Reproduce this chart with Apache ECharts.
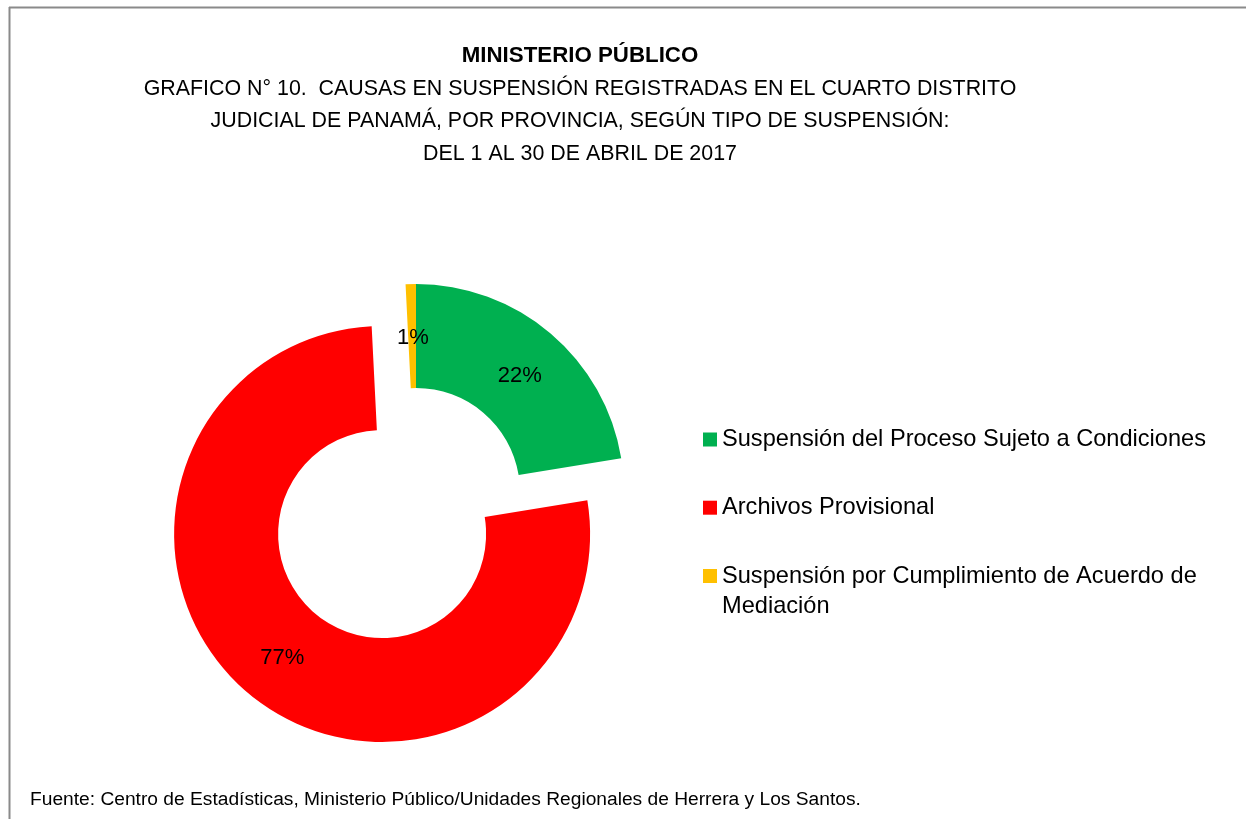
<!DOCTYPE html>
<html>
<head>
<meta charset="utf-8">
<script src="https://cdn.jsdelivr.net/npm/echarts@6/dist/echarts.min.js"></script>
<style>
html,body{margin:0;padding:0;background:#fff;}
#chart{width:1246px;height:819px;}
</style>
</head>
<body>
<div id="chart"></div>
<script>
const categories = [
  'Suspensión del Proceso Sujeto a Condiciones',
  'Archivos Provisional',
  'Suspensión por Cumplimiento de Acuerdo de Mediación'
];
const legendLabels = [
  'Suspensión del Proceso Sujeto a Condiciones',
  'Archivos Provisional',
  '\nSuspensión por Cumplimiento de Acuerdo de\nMediación'
];
const values = [22.4, 76.8, 0.8];
const colors = ['#00B050', '#FF0000', '#FFC000'];
const titleMain = 'MINISTERIO PÚBLICO';
const titleLines = [
  'GRAFICO N° 10.  CAUSAS EN SUSPENSIÓN REGISTRADAS EN EL CUARTO DISTRITO',
  'JUDICIAL DE PANAMÁ, POR PROVINCIA, SEGÚN TIPO DE SUSPENSIÓN:',
  'DEL 1 AL 30 DE ABRIL DE 2017'
];
const sourceText = 'Fuente: Centro de Estadísticas, Ministerio Público/Unidades Regionales de Herrera y Los Santos.';

const FONT = 'Liberation Sans';
const chart = echarts.init(document.getElementById('chart'), null, {renderer: 'canvas'});

const legendTops = [424.5, 492.7, 531];
const legends = categories.map((c, i) => ({
  orient: 'vertical',
  left: 703,
  top: legendTops[i],
  padding: 0,
  itemWidth: 14,
  itemHeight: 14,
  icon: 'rect',
  selectedMode: false,
  data: [c],
  formatter: () => legendLabels[i],
  textStyle: {
    fontFamily: FONT, fontSize: 23.6, color: '#000', lineHeight: 30
  }
}));

chart.setOption({
  animation: false,
  legend: legends,
  graphic: [
    {type: 'line', shape: {x1: 9, y1: 7.5, x2: 1246, y2: 7.5}, style: {stroke: '#8a8a8a', lineWidth: 2}},
    {type: 'line', shape: {x1: 9.5, y1: 7, x2: 9.5, y2: 819}, style: {stroke: '#8a8a8a', lineWidth: 2}},
    {type: 'text', x: 580, y: 56, style: {text: titleMain, font: 'bold 22.3px ' + FONT, fill: '#000', textAlign: 'center', textVerticalAlign: 'middle'}},
    ...titleLines.map((t, i) => ({
      type: 'text', x: 580, y: 89 + i * 32.5,
      style: {text: t, font: '21.4px ' + FONT, fill: '#000', textAlign: 'center', textVerticalAlign: 'middle'}
    })),
    {type: 'text', x: 30, y: 800, style: {text: sourceText, font: '19.2px ' + FONT, fill: '#000', textAlign: 'left', textVerticalAlign: 'middle'}}
  ],
  series: [{
    type: 'pie',
    center: [416, 492],
    radius: [104, 208],
    startAngle: 90,
    clockwise: true,
    avoidLabelOverlap: false,
    selectedMode: 'single',
    selectedOffset: 54,
    percentPrecision: 0,
    emphasis: {disabled: true, scale: false},
    select: {itemStyle: {}},
    label: {
      show: true,
      position: 'inside',
      formatter: '{d}%',
      fontFamily: FONT,
      fontSize: 22,
      color: '#000',
      offset: [1, 5]
    },
    labelLine: {show: false},
    data: categories.map((c, i) => ({
      name: c,
      value: values[i],
      selected: i === 1,
      itemStyle: {color: colors[i]}
    }))
  }]
});
</script>
</body>
</html>
